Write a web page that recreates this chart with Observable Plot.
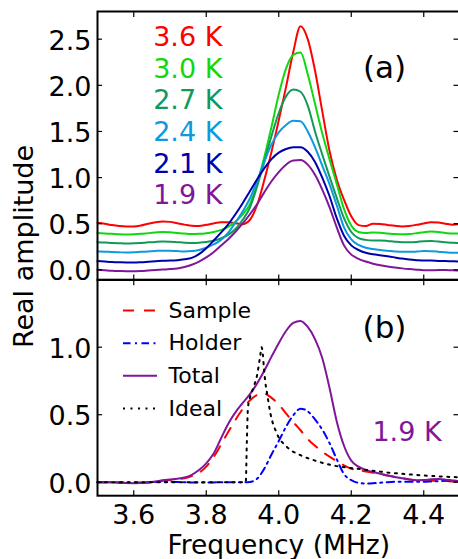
<!DOCTYPE html>
<html><head><meta charset="utf-8">
<script src="https://cdn.jsdelivr.net/npm/d3@7"></script>
<script src="https://cdn.jsdelivr.net/npm/@observablehq/plot@0.6"></script>
<style>
html,body{margin:0;padding:0;background:#fff;overflow:hidden;}
#wrap{position:relative;width:458px;height:559px;overflow:hidden;font-family:"DejaVu Sans",sans-serif;}
#wrap svg{position:absolute;left:0;}
</style></head><body><div id="wrap"></div>
<script>
// ---------- data ----------
const freq = [3.50,3.52,3.54,3.56,3.58,3.60,3.62,3.64,3.66,3.68,3.70,3.72,3.74,3.76,3.78,3.80,3.82,3.84,3.86,3.88,3.90,3.92,3.94,3.96,3.98,4.00,4.02,4.04,4.06,4.08,4.10,4.12,4.14,4.16,4.18,4.20,4.22,4.24,4.26,4.28,4.30,4.32,4.34,4.36,4.38,4.40,4.42,4.44,4.46,4.48,4.50];

const amp36 = [0.51,0.50,0.485,0.475,0.47,0.47,0.48,0.50,0.515,0.525,
 0.52,0.505,0.49,0.477,0.475,0.488,0.503,0.515,0.517,0.505,
 0.495,0.54,0.70,0.97,1.28,1.62,1.98,2.36,2.64,2.50,
 2.16,1.72,1.29,0.98,0.76,0.58,0.485,0.475,0.50,0.497,
 0.487,0.477,0.47,0.475,0.488,0.503,0.515,0.512,0.50,0.49,0.495];
const amp30 = [0.40,0.395,0.39,0.385,0.383,0.385,0.39,0.398,0.405,0.41,
 0.407,0.40,0.393,0.388,0.39,0.397,0.41,0.43,0.465,0.52,
 0.60,0.71,0.93,1.22,1.55,1.90,2.18,2.33,2.355,2.12,
 1.80,1.48,1.20,0.93,0.66,0.48,0.41,0.40,0.405,0.402,
 0.395,0.388,0.385,0.388,0.397,0.408,0.415,0.41,0.40,0.393,0.393];
const amp27 = [0.30,0.297,0.292,0.288,0.285,0.287,0.292,0.298,0.303,0.306,
 0.305,0.30,0.295,0.292,0.295,0.302,0.315,0.34,0.38,0.44,
 0.54,0.67,0.90,1.17,1.45,1.70,1.88,1.955,1.93,1.78,
 1.50,1.25,1.01,0.78,0.56,0.41,0.345,0.325,0.318,0.318,
 0.313,0.305,0.30,0.30,0.303,0.31,0.312,0.307,0.30,0.293,0.29];
const amp24 = [0.20,0.197,0.193,0.19,0.188,0.19,0.195,0.20,0.205,0.208,
 0.207,0.203,0.20,0.203,0.215,0.24,0.275,0.32,0.40,0.51,
 0.63,0.77,0.96,1.17,1.36,1.49,1.57,1.615,1.61,1.50,
 1.33,1.13,0.93,0.70,0.46,0.33,0.27,0.24,0.225,0.215,
 0.208,0.20,0.195,0.195,0.198,0.203,0.202,0.197,0.19,0.185,0.185];
const amp21 = [0.095,0.09,0.085,0.082,0.08,0.08,0.083,0.088,0.093,0.098,
 0.10,0.105,0.115,0.13,0.17,0.235,0.315,0.40,0.49,0.60,
 0.72,0.85,0.98,1.10,1.20,1.27,1.31,1.33,1.33,1.28,
 1.17,1.00,0.80,0.56,0.37,0.265,0.215,0.185,0.168,0.157,
 0.147,0.135,0.122,0.112,0.105,0.10,0.10,0.097,0.095,0.093,0.09];
const amp19 = [0.0,-0.005,-0.01,-0.013,-0.015,-0.015,-0.012,-0.007,-0.002,0.003,
 0.008,0.015,0.03,0.055,0.09,0.135,0.19,0.26,0.33,0.41,
 0.50,0.60,0.71,0.84,0.96,1.06,1.14,1.185,1.19,1.14,
 1.03,0.87,0.68,0.46,0.265,0.165,0.12,0.09,0.067,0.05,
 0.037,0.026,0.016,0.008,0.002,-0.003,-0.004,-0.002,-0.002,-0.005,-0.006];

const sample = [0.0,0.0,-0.002,-0.004,-0.006,-0.007,-0.006,-0.002,0.004,0.011,
 0.017,0.023,0.03,0.045,0.07,0.115,0.185,0.275,0.37,0.46,
 0.54,0.605,0.645,0.655,0.625,0.575,0.51,0.445,0.385,0.32,
 0.27,0.225,0.19,0.155,0.125,0.10,0.088,0.08,0.07,0.06,
 0.05,0.04,0.03,0.021,0.014,0.01,0.01,0.012,0.01,0.005,0.002];
const holder = [0.0,0.0,0.0,-0.002,-0.003,-0.003,-0.002,0.0,0.002,0.003,
 0.003,0.002,0.0,-0.002,-0.003,-0.003,-0.002,0.0,0.0,0.0,
 0.0,0.002,0.025,0.10,0.205,0.305,0.41,0.495,0.545,0.525,
 0.465,0.39,0.29,0.17,0.06,0.015,-0.005,-0.01,-0.008,-0.004,
 0.0,0.003,0.004,0.004,0.003,0.003,0.005,0.008,0.01,0.01,0.008];
const total = [0.0,0.0,-0.002,-0.004,-0.006,-0.007,-0.006,-0.002,0.005,0.014,
 0.02,0.026,0.035,0.055,0.09,0.14,0.21,0.32,0.43,0.515,
 0.585,0.65,0.73,0.825,0.93,1.03,1.12,1.18,1.195,1.15,
 1.06,0.92,0.70,0.45,0.27,0.16,0.115,0.09,0.075,0.062,
 0.05,0.039,0.029,0.02,0.015,0.016,0.021,0.023,0.019,0.012,0.008];
const idealFreq = [3.50,3.60,3.70,3.80,3.90,3.909,3.912,3.915,3.92,3.93,3.94,3.948,3.953,3.956,3.959,3.963,3.968,3.977,3.995,4.023,4.06,4.10,4.15,4.20,4.25,4.30,4.35,4.40,4.45,4.50];
const ideal = [0,0,0,0,0,0,0.3,0.55,0.62,0.70,0.79,0.92,1.0,0.95,0.85,0.74,0.655,0.51,0.36,0.26,0.20,0.16,0.124,0.105,0.088,0.072,0.06,0.05,0.042,0.036];

const tempLabels = ["3.6 K","3.0 K","2.7 K","2.4 K","2.1 K","1.9 K"];
const legendNames = ["Sample","Holder","Total","Ideal"];
const xTicks = [3.6,3.8,4.0,4.2,4.4];
const xTickLabels = ["3.6","3.8","4.0","4.2","4.4"];
const yTicksTop = [0,0.5,1,1.5,2,2.5];
const yTickLabelsTop = ["0.0","0.5","1.0","1.5","2.0","2.5"];
const yTicksBottom = [0,0.5,1];
const yTickLabelsBottom = ["0.0","0.5","1.0"];

// ---------- styles ----------
const tempColors = ["#ff0000","#10d810","#12995a","#0f99dd","#0000aa","#80169a"];
const purple = "#80169a";
const bStyles = [
  {stroke:"#ff0000", dash:"11,10"},
  {stroke:"#0000ff", dash:"7.5,4.5,2,4.5"},
  {stroke:purple, dash:null},
  {stroke:"#000000", dash:"2,5.5"}
];
const bSeries = [sample, holder, total];

(function draw() {
const font = "'DejaVu Sans', sans-serif";
const baseStyle = {background:"transparent", overflow:"visible", maxWidth:"none", fontFamily:font, fontSize:"27px"};
const fmt = (ticks, labels) => { const m = new Map(ticks.map((t,i)=>[t,labels[i]])); return d => m.get(d); };
const wrap = document.getElementById("wrap");

function tickMarks(yt) {
  return [
    Plot.axisX({ticks:xTicks, anchor:"bottom", tickSize:-5, tickFormat:()=>"", label:null, strokeWidth:1.2}),
    Plot.axisX({ticks:xTicks, anchor:"top", tickSize:-5, tickFormat:()=>"", label:null, strokeWidth:1.2}),
    Plot.axisY({ticks:yt, anchor:"left", tickSize:-5, tickFormat:()=>"", label:null, strokeWidth:1.2}),
    Plot.axisY({ticks:yt, anchor:"right", tickSize:-7, tickFormat:()=>"", label:null, strokeWidth:1.2})
  ];
}

// ---------- top panel ----------
const topRows = [amp36, amp30, amp27, amp24, amp21, amp19].flatMap((vals,k) => vals.map((v,i) => ({f:freq[i], a:v, s:tempLabels[k]})));
const topPlot = Plot.plot({
  width:460, height:280, marginLeft:97, marginRight:0.5, marginTop:11, marginBottom:0.5,
  style: baseStyle,
  x:{domain:[3.5,4.5]},
  y:{domain:[-0.11,2.8]},
  color:{domain:tempLabels, range:tempColors},
  marks:[
    Plot.line(topRows, {x:"f", y:"a", z:"s", stroke:"s", strokeWidth:2, curve:"monotone-x"}),
    ...tickMarks(yTicksTop),
    Plot.axisY({ticks:yTicksTop, anchor:"left", tickSize:0, tickPadding:6, dy:2, tickFormat:fmt(yTicksTop,yTickLabelsTop), label:null}),
    Plot.text(tempLabels, {x:()=>3.6535, y:(d,i)=>2.521 - i*0.3432, text:d=>d, fill:d=>d, textAnchor:"start", fontSize:27}),
    Plot.text(["(a)"], {x:()=>4.2917, y:()=>2.188, text:d=>d, fontSize:31, fill:"black"}),
    Plot.frame({stroke:"black", strokeWidth:2})
  ]
});
topPlot.style.top = "0px";
wrap.appendChild(topPlot);

// ---------- bottom panel ----------
const bRows = bSeries.flatMap((vals,k) => vals.map((v,i) => ({f:freq[i], a:v, k})));
const iRows = idealFreq.map((f,i) => ({f, a:ideal[i]}));
const bMarks = [];
bSeries.forEach((vals,k) => {
  const opts = {x:"f", y:"a", stroke:bStyles[k].stroke, strokeWidth:2, curve:"monotone-x"};
  if (bStyles[k].dash) opts.strokeDasharray = bStyles[k].dash;
  bMarks.push(Plot.line(bRows.filter(r => r.k === k), opts));
});
bMarks.push(Plot.line(iRows, {x:"f", y:"a", stroke:bStyles[3].stroke, strokeWidth:2, curve:"monotone-x", strokeDasharray:bStyles[3].dash}));
legendNames.forEach((name,k) => {
  const opts = {y:d => 1.272 - d*0.242, x1:()=>3.5717, x2:()=>3.6655, stroke:bStyles[k].stroke, strokeWidth:2};
  if (bStyles[k].dash) opts.strokeDasharray = bStyles[k].dash;
  bMarks.push(Plot.ruleY([k], opts));
});
const bottomPlot = Plot.plot({
  width:460, height:289, marginLeft:97, marginRight:0.5, marginTop:9.2, marginBottom:63.8,
  style: baseStyle,
  x:{domain:[3.5,4.5]},
  y:{domain:[-0.1,1.5]},
  marks:[
    ...bMarks,
    ...tickMarks(yTicksBottom),
    Plot.axisY({ticks:yTicksBottom, anchor:"left", tickSize:0, tickPadding:6, dy:2, tickFormat:fmt(yTicksBottom,yTickLabelsBottom), label:null}),
    Plot.axisX({ticks:xTicks, anchor:"bottom", tickSize:0, tickPadding:9, tickFormat:fmt(xTicks,xTickLabels), label:null}),
    Plot.text(legendNames, {x:()=>3.696, y:(d,i)=>1.272 - i*0.242, text:d=>d, textAnchor:"start", fontSize:22, fill:"black"}),
    Plot.text(["(b)"], {x:()=>4.2917, y:()=>1.142, text:d=>d, fontSize:31, fill:"black"}),
    Plot.text(["1.9 K"], {x:()=>4.3538, y:()=>0.3726, text:d=>d, fontSize:27, fill:purple}),
    Plot.text(["Frequency (MHz)"], {frameAnchor:"bottom", dy:58, lineAnchor:"bottom", text:d=>d, fontSize:26.5, fill:"black"}),
    Plot.frame({stroke:"black", strokeWidth:2})
  ]
});
bottomPlot.style.top = "270px";
wrap.appendChild(bottomPlot);

// ---------- shared y label ----------
const ysvg = d3.create("svg").attr("width",60).attr("height",559).style("top","0px").style("overflow","visible");
ysvg.append("text").attr("transform","translate(33,246.5) rotate(-90)").attr("text-anchor","middle")
  .attr("font-family",font).attr("font-size",27).attr("fill","black").text("Real amplitude");
wrap.appendChild(ysvg.node());
})();
</script></body></html>
